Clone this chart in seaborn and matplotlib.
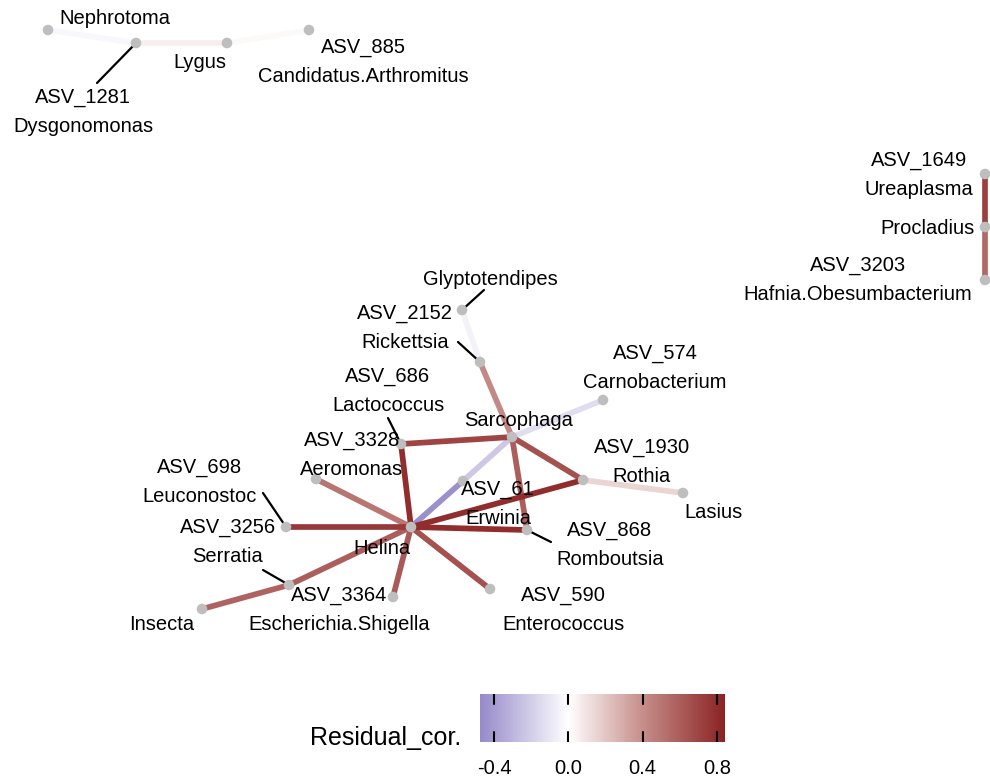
"""
Residual correlation network (species co-occurrence) redrawn with seaborn
"""

import numpy as np
import pandas as pd
import matplotlib
matplotlib.use("Agg")
import matplotlib.pyplot as plt
from matplotlib.colors import LinearSegmentedColormap, Normalize
from matplotlib.cm import ScalarMappable
import seaborn as sns

# node layout (x, y in layout units, y grows downwards)
node_names = ["Nephrotoma", "ASV_1281", "Lygus", "ASV_885",
              "ASV_1649", "Procladius", "ASV_3203",
              "Helina", "Sarcophaga", "Glyptotendipes", "ASV_2152", "ASV_574",
              "ASV_1930", "Lasius", "ASV_61", "ASV_868", "ASV_686", "ASV_3328",
              "ASV_698", "ASV_3256", "ASV_3364", "Insecta", "ASV_590"]
node_x = [48, 136, 227, 309,
          985, 985, 985,
          411, 512, 462, 480, 603,
          583, 683, 463, 527, 401, 316,
          286, 289, 393, 202, 490]
node_y = [30, 43, 43, 30,
          174, 227, 280,
          527, 437, 310, 362, 400,
          480, 493, 481, 530, 444, 479,
          527, 585, 597, 609, 589]

# labels shown next to nodes
node_labels = ["Nephrotoma", "ASV_1281\nDysgonomonas", "Lygus", "ASV_885\nCandidatus.Arthromitus",
               "ASV_1649\nUreaplasma", "Procladius", "ASV_3203\nHafnia.Obesumbacterium",
               "Helina", "Sarcophaga", "Glyptotendipes", "ASV_2152\nRickettsia",
               "ASV_574\nCarnobacterium", "ASV_1930\nRothia", "Lasius", "ASV_61\nErwinia",
               "ASV_868\nRomboutsia", "ASV_686\nLactococcus", "ASV_3328\nAeromonas",
               "ASV_698\nLeuconostoc", "ASV_3256\nSerratia", "ASV_3364\nEscherichia.Shigella",
               "Insecta", "ASV_590\nEnterococcus"]
label_x = [115, 83, 200, 363,
           919, 927, 858,
           382, 519, 490, 405, 655,
           642, 713, 498, 610, 388, 352,
           200, 228, 339, 162, 563]
label_y = [18, 112, 62, 62,
           175, 228, 280,
           548, 420, 279, 328, 368,
           462, 513, 504, 545, 391, 455,
           482, 542, 610, 625, 610]
# repel segments: label end -> node (only for some labels)
seg_from = {"ASV_1281": (97, 83), "Glyptotendipes": (484, 290), "ASV_2152": (458, 342),
            "ASV_868": (551, 542), "ASV_686": (388, 418), "ASV_698": (263, 493),
            "ASV_3256": (263, 570)}

# edges and residual correlations
edge_from = ["Nephrotoma", "ASV_1281", "Lygus",
             "ASV_1649", "Procladius",
             "Helina", "ASV_61", "Sarcophaga", "Helina", "ASV_686",
             "Sarcophaga", "ASV_2152", "Sarcophaga", "Sarcophaga", "Helina",
             "Helina", "ASV_1930", "Helina", "Helina", "Helina",
             "ASV_3256", "Helina", "Helina"]
edge_to = ["ASV_1281", "Lygus", "ASV_885",
           "Procladius", "ASV_3203",
           "ASV_61", "Sarcophaga", "ASV_574", "ASV_686", "Sarcophaga",
           "ASV_2152", "Glyptotendipes", "ASV_1930", "ASV_868", "ASV_1930",
           "ASV_868", "Lasius", "ASV_3328", "ASV_698", "ASV_3256",
           "Insecta", "ASV_3364", "ASV_590"]
edge_cor = [-0.03, 0.06, 0.02,
            0.72, 0.55,
            -0.45, -0.22, -0.14, 0.80, 0.70,
            0.42, -0.05, 0.65, 0.60, 0.80,
            0.80, 0.15, 0.50, 0.75, 0.60,
            0.58, 0.62, 0.65]

cb_ticks = [-0.4, 0.0, 0.4, 0.8]
cor_min, cor_max = -0.475, 0.843

cmap = LinearSegmentedColormap.from_list(
    "resid",
    [(0.0, "#968aca"), (0.475 / 1.318, "#ffffff"),
     (0.875 / 1.318, "#c68e8a"), (1.0, "#8b2323")])
norm = Normalize(cor_min, cor_max)

pos = dict(zip(node_names, zip(node_x, node_y)))
rows = []
for i, (a, b, w) in enumerate(zip(edge_from, edge_to, edge_cor)):
    for n in (a, b):
        rows.append({"edge": i, "x": pos[n][0], "y": pos[n][1], "cor": w})
edges_df = pd.DataFrame(rows)
nodes_df = pd.DataFrame({"name": node_names, "x": node_x, "y": node_y})

sns.set_style("white")
plt.rcParams["font.family"] = ["Liberation Sans", "DejaVu Sans"]
plt.rcParams["text.color"] = "black"
plt.rcParams["xtick.color"] = "black"

fig = plt.figure(figsize=(9.9, 7.79), dpi=100)
ax = fig.add_axes([0, 0, 1, 1])

sns.lineplot(data=edges_df, x="x", y="y", units="edge", estimator=None, sort=False,
             hue="cor", palette=cmap, hue_norm=norm, linewidth=4.1,
             legend=False, ax=ax, zorder=1)
sns.scatterplot(data=nodes_df, x="x", y="y", color="#bebebe", s=58,
                edgecolor="none", legend=False, ax=ax, zorder=3)

for name, lab, lx, ly in zip(node_names, node_labels, label_x, label_y):
    if name in seg_from:
        sx, sy = seg_from[name]
        ax.plot([sx, pos[name][0]], [sy, pos[name][1]], color="black", lw=1.6, zorder=2)
    ax.text(lx, ly, lab, ha="center", va="center", fontsize=14.5,
            linespacing=1.71, zorder=4)

ax.set_xlim(0, 990)
ax.set_ylim(779, 0)
ax.axis("off")

# colour bar
cax = fig.add_axes([480 / 990, 1 - 742 / 779, 245 / 990, 48 / 779])
cb = fig.colorbar(ScalarMappable(norm=norm, cmap=cmap), cax=cax, orientation="horizontal")
cb.outline.set_visible(False)
cb.set_ticks(cb_ticks)
cb.set_ticklabels([f"{t:.1f}" for t in cb_ticks])
cax.tick_params(length=0, labelsize=14.5, pad=12, colors="black")
for t in cb_ticks:
    cax.plot([t, t], [0, 0.2], color="black", lw=1.5, transform=cax.get_xaxis_transform())
    cax.plot([t, t], [0.8, 1], color="black", lw=1.5, transform=cax.get_xaxis_transform())
fig.text(386 / 990, 1 - 738 / 779, "Residual_cor.", ha="center", va="center", fontsize=18)

fig.savefig("out.png", dpi=100)
